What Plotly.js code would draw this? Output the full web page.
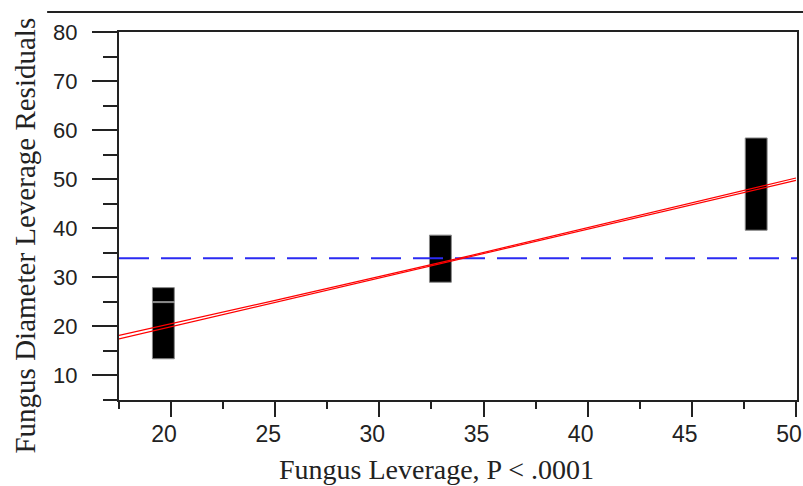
<!DOCTYPE html>
<html>
<head>
<meta charset="utf-8">
<script src="https://cdn.plot.ly/plotly-3.0.1.min.js"></script>
<style>html,body{margin:0;padding:0;background:#fff;}#chart{width:803px;height:486px;}</style>
</head>
<body>
<div id="chart"></div>
<script>
// Groups of observations (black blocks): x position, low and high residual values
const blockX    = [19.63, 19.63, 32.93, 48.09];
const blockLow  = [13.4, 25.05, 29.0, 39.6];
const blockHigh = [24.85, 27.9, 38.6, 58.4];

// Fitted leverage line confidence curves
const fitX   = [17.5, 25, 33.9, 42, 50];
const upperY = [18.15, 25.3, 33.95, 42.2, 50.25];
const lowerY = [17.45, 24.9, 33.85, 41.8, 49.75];

// Mean of response (horizontal reference)
const meanX = [17.5, 50.05];
const meanY = [33.9, 33.9];

const xTicks = [20, 25, 30, 35, 40, 45, 50];
const yTicks = [10, 20, 30, 40, 50, 60, 70, 80];

const xTitle = 'Fungus Leverage, P < .0001';
const yTitle = 'Fungus Diameter Leverage Residuals';

const traces = [
  {
    type: 'bar',
    x: blockX,
    y: blockHigh.map((h, i) => h - blockLow[i]),
    base: blockLow,
    width: 1.05,
    marker: {color: '#000', line: {color: '#888', width: 1}},
    hoverinfo: 'skip',
    showlegend: false
  },
  {
    type: 'scatter', mode: 'lines', x: meanX, y: meanY,
    line: {color: '#2b2bf2', width: 2, dash: '30px,12px'},
    showlegend: false
  },
  {
    type: 'scatter', mode: 'lines', x: fitX, y: upperY,
    line: {color: '#ff0000', width: 1.2},
    showlegend: false
  },
  {
    type: 'scatter', mode: 'lines', x: fitX, y: lowerY,
    line: {color: '#ff0000', width: 1.2},
    showlegend: false
  }
];

const serif = 'Liberation Serif, Times New Roman, serif';
const sans = 'Liberation Sans, Arial, sans-serif';

const layout = {
  width: 803, height: 486,
  margin: {l: 119, r: 6, t: 32, b: 86},
  paper_bgcolor: '#fff', plot_bgcolor: '#fff',
  showlegend: false,
  barmode: 'overlay',
  xaxis: {
    range: [17.5, 50.05],
    tickvals: xTicks, ticktext: xTicks.map(String),
    ticks: 'outside', ticklen: 15, tickwidth: 2, tickcolor: '#222',
    minor: {dtick: 2.5, tick0: 0, ticks: 'outside', ticklen: 7, tickwidth: 2, tickcolor: '#222', showgrid: false},
    showline: true, linecolor: '#222', linewidth: 2, mirror: true,
    showgrid: false, zeroline: false,
    tickfont: {family: sans, size: 23, color: '#222'},
    ticklabelshift: -7,
    ticklabelstandoff: -3
  },
  yaxis: {
    range: [5, 80],
    tickvals: yTicks, ticktext: yTicks.map(String),
    ticks: 'outside', ticklen: 25, tickwidth: 2, tickcolor: '#222',
    minor: {dtick: 5, tick0: 0, ticks: 'outside', ticklen: 14, tickwidth: 2, tickcolor: '#222', showgrid: false},
    showline: true, linecolor: '#222', linewidth: 2, mirror: true,
    showgrid: false, zeroline: false,
    tickfont: {family: sans, size: 22, color: '#222'},
    ticklabelstandoff: 10
  },
  annotations: [
    {text: xTitle, xref: 'paper', yref: 'paper', x: 0.4683, y: -0.14,
     xanchor: 'center', yanchor: 'top', showarrow: false,
     font: {family: serif, size: 28, color: '#222'}},
    {text: yTitle, xref: 'paper', yref: 'paper', x: -0.1401, y: 0.447,
     xanchor: 'center', yanchor: 'middle', textangle: -90, showarrow: false,
     font: {family: serif, size: 29, color: '#222'}}
  ],
  shapes: [
    {type: 'line', xref: 'paper', yref: 'paper', x0: -0.106, x1: 1.01, y0: 1.0543, y1: 1.0543,
     line: {color: '#222', width: 2}}
  ]
};

Plotly.newPlot('chart', traces, layout, {displayModeBar: false, staticPlot: true});
</script>
</body>
</html>
